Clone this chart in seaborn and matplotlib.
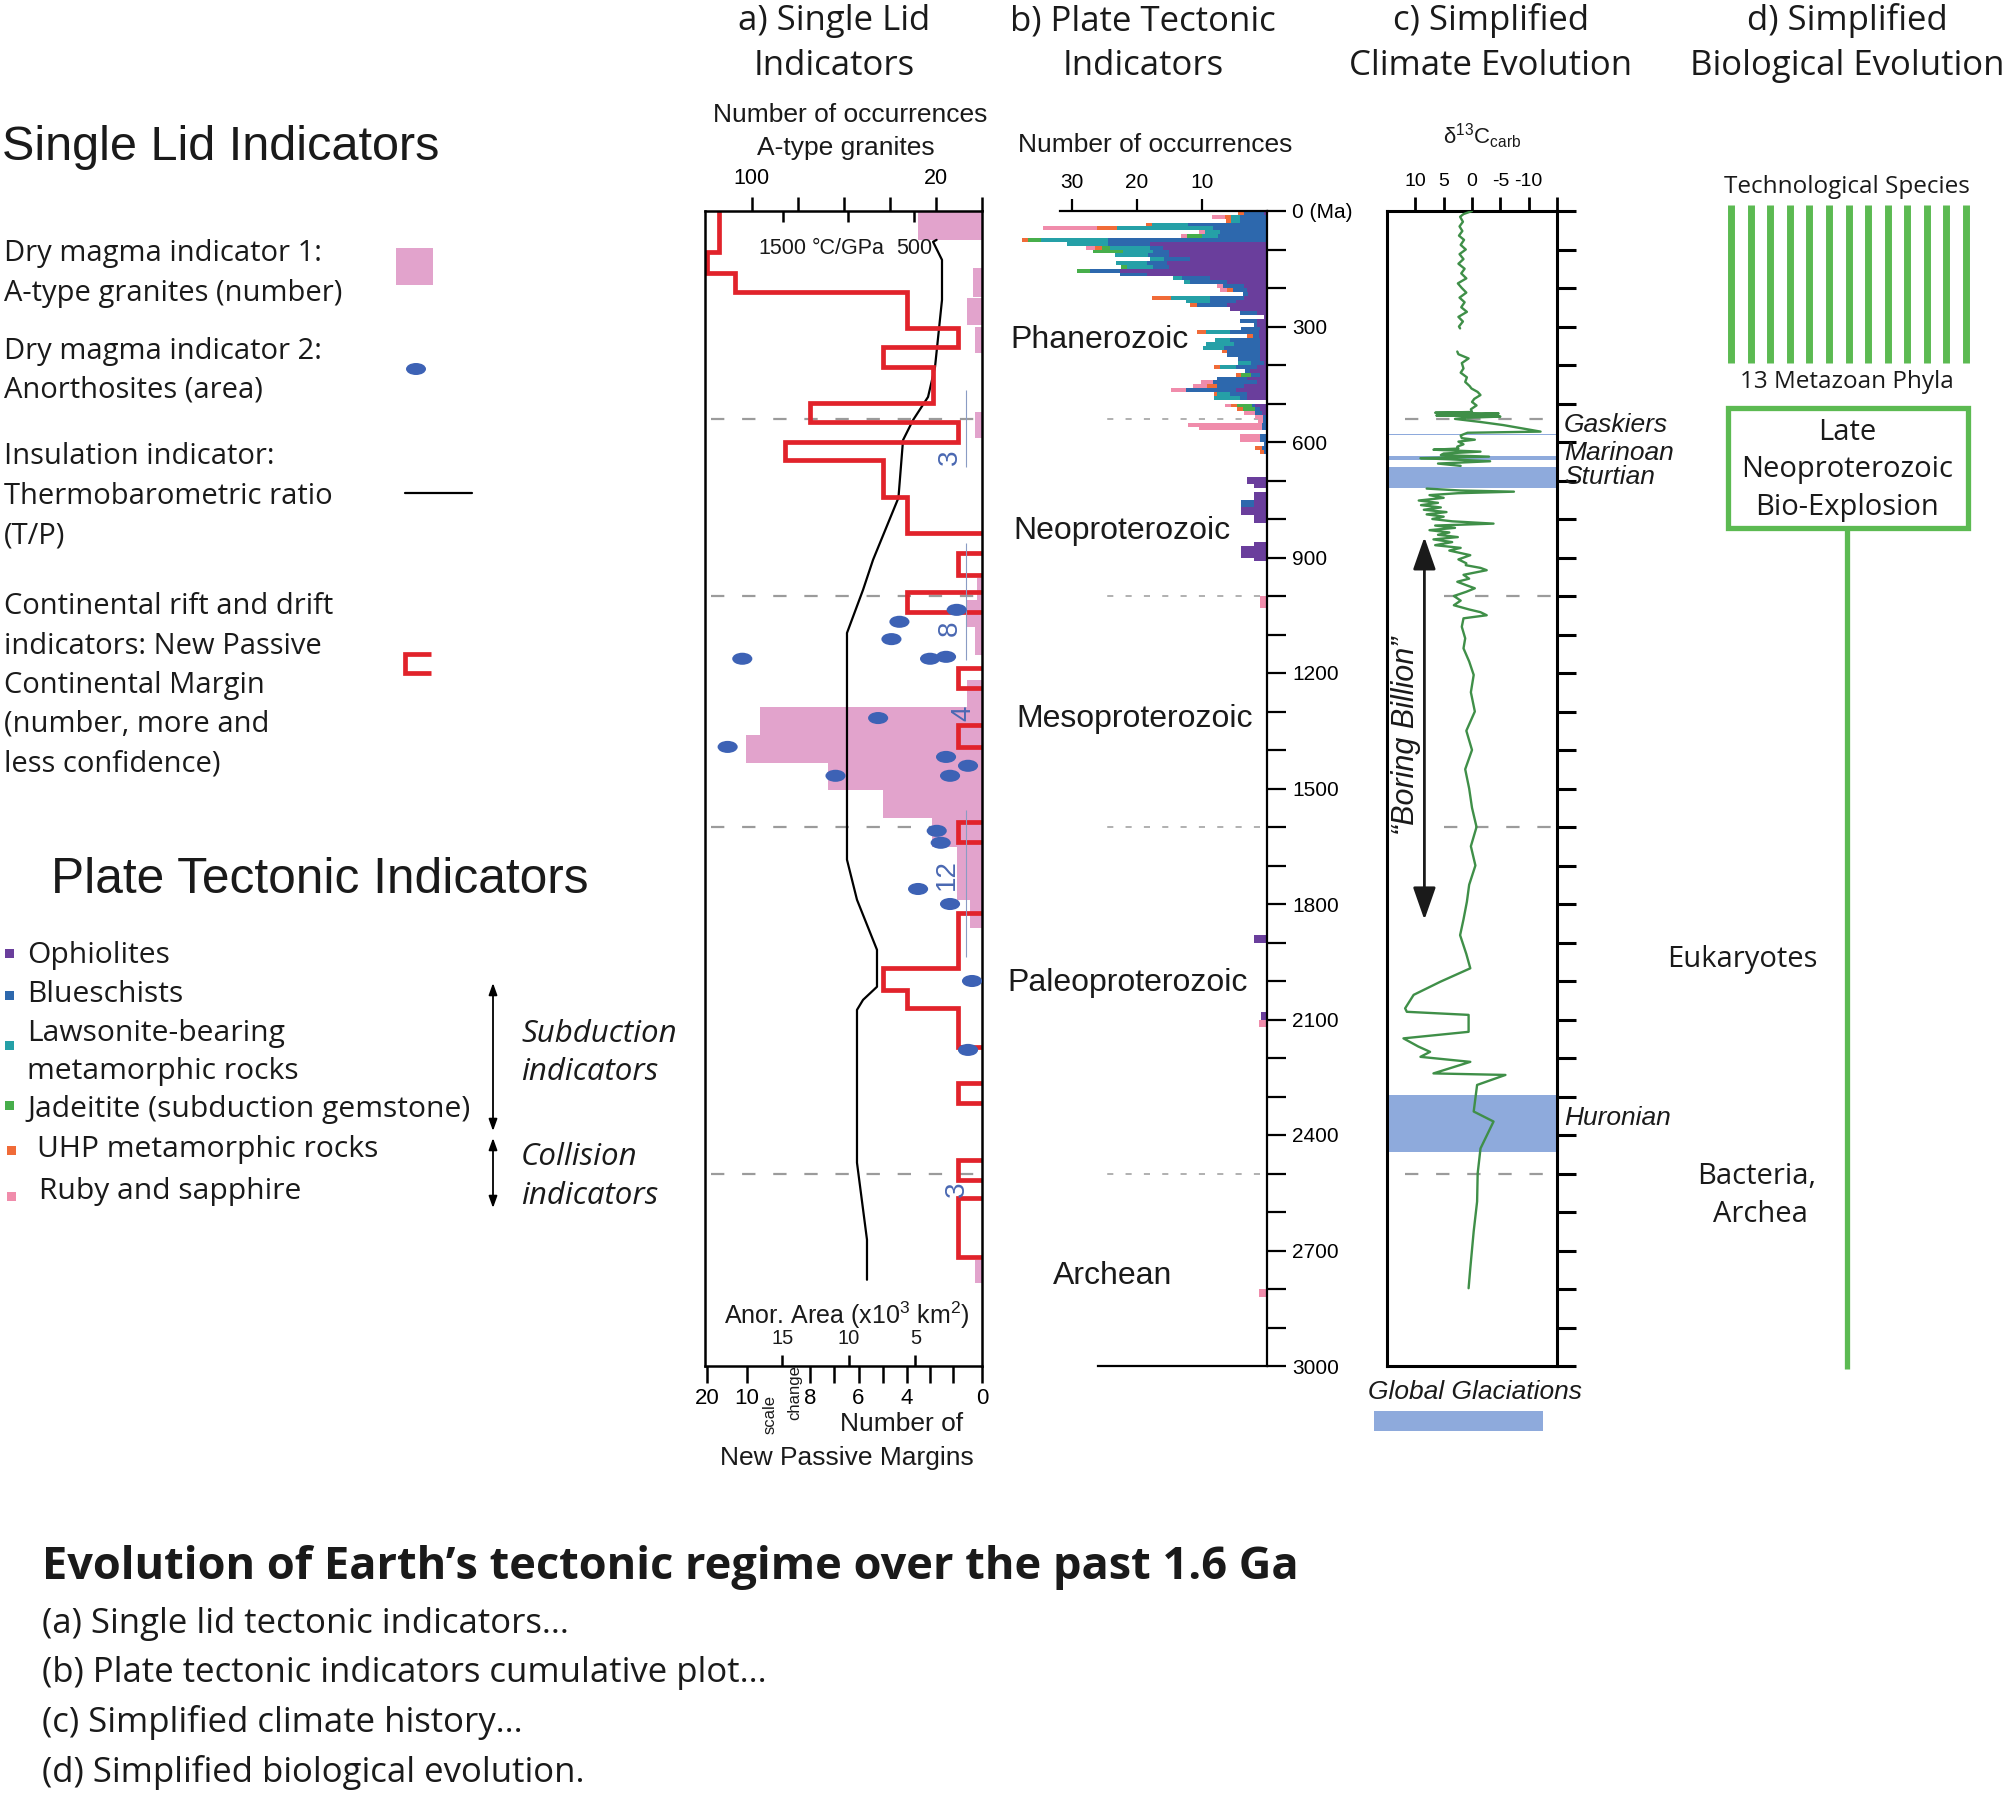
import numpy as np
import pandas as pd
import matplotlib
matplotlib.use("Agg")
import matplotlib.pyplot as plt
import seaborn as sns
from matplotlib.path import Path
from matplotlib.transforms import Affine2D
from matplotlib.patches import Rectangle, Ellipse
from matplotlib.ticker import MultipleLocator, FuncFormatter

# ============================ DATA ============================
era_bounds = [541, 1000, 1600, 2500]
era_names = ["Phanerozoic", "Neoproterozoic", "Mesoproterozoic", "Paleoproterozoic", "Archean"]

# (a) A-type granites: number of occurrences per age bin (Ma)
gran_start = [0, 148, 226, 301, 522, 953, 1010, 1080, 1218, 1288, 1361, 1434, 1504, 1576, 1652, 1789, 2724]
gran_end = [75, 223, 296, 369, 590, 1010, 1080, 1153, 1288, 1361, 1434, 1504, 1576, 1652, 1789, 1862, 2784]
gran_count = [28, 4, 6.5, 3, 3, 2, 7, 3, 6.5, 96.5, 102.6, 67, 43, 21.7, 11, 5, 3]

# (a) Anorthosites: area (x10^3 km^2) vs age
anor_age = [1036, 1067, 1112, 1163, 1163, 1158, 1317, 1392, 1418, 1441, 1467, 1467, 1610, 1641, 1761, 1800, 2000, 2179]
anor_area = [1.9, 6.2, 6.8, 18.0, 3.9, 2.7, 7.8, 19.1, 2.7, 1.05, 2.4, 11.0, 3.4, 3.1, 4.8, 2.4, 0.75, 1.05]
anor_group_label = ["3", "8", "4", "12", "3"]
anor_group_age = [640, 1083, 1304, 1724, 2542]
anor_group_area = [2.4, 2.4, 1.4, 2.6, 1.9]
anor_bar_top = [465, 862, 1556]
anor_bar_bottom = [665, 1166, 1937]

# (a) Thermobarometric ratio T/P (degC/GPa)
tp_age = [75, 80, 127, 231, 405, 483, 543, 595, 745, 906, 984, 1096, 1685, 1789, 1919, 2015, 2049, 2075, 2472, 2672, 2776]
tp_val = [330, 357, 289, 289, 342, 395, 509, 585, 620, 813, 889, 1011, 1011, 935, 783, 783, 889, 935, 935, 859, 859]

# (a) New passive margins (number) per age bin
pm_start = [0, 106, 161, 210, 304, 353, 405, 499, 548, 600, 647, 743, 888, 989, 1187, 1335, 1587,
            1823, 1966, 2023, 2070, 2265, 2465, 2563]
pm_end = [106, 161, 210, 304, 353, 405, 499, 548, 600, 647, 743, 836, 945, 1041, 1239, 1392, 1639,
          1966, 2023, 2070, 2171, 2317, 2517, 2716]
pm_count = [17, 20, 13, 4, 1.3, 5, 2.6, 8, 1.3, 8.8, 5, 4, 1.3, 4, 1.3, 1.3, 1.3,
            1.3, 5, 4, 1.3, 1.3, 1.3, 1.3]

# (b) Plate tectonic indicators, 10 Myr bins (bin start age, Ma)
pt_age = [0, 10, 20, 30, 40, 50, 60, 70, 80, 90,
          100, 110, 120, 130, 140, 150, 160, 170, 180, 190,
          200, 210, 220, 230, 240, 250, 260, 270, 280, 290,
          300, 310, 320, 330, 340, 350, 360, 370, 380, 390,
          400, 410, 420, 430, 440, 450, 460, 470, 480, 500,
          510, 520, 530, 540, 550, 560, 580, 590, 600, 610,
          620, 690, 700, 710, 730, 740, 750, 760, 770, 780,
          790, 800, 860, 870, 880, 890, 900, 1000, 1010, 1020,
          1880, 1890, 2080, 2090, 2100, 2110, 2800, 2810]
pt_ophiolite = [0.5, 0, 0, 0, 0, 0, 0, 0, 18, 16,
                15, 15, 11.8, 15.4, 15, 22.6, 18.5, 8.8, 6.2, 3.6,
                3.1, 2.9, 3.6, 4.7, 6.2, 5.7, 1.6, 0.5, 1.6, 1.5,
                1.0, 1.3, 1.3, 1.1, 1.0, 1.0, 1.0, 1.0, 1.0, 0.5,
                1.6, 2.6, 1.0, 3.1, 1.6, 3.6, 4.7, 3.1, 3.1, 1.8,
                1.1, 0.8, 0, 0, 0, 0, 0, 0, 0, 0,
                0, 3, 3, 2, 2, 2, 2, 2, 4, 4,
                2, 2, 2, 4, 4, 4, 2, 0, 0, 0,
                2, 2, 0.9, 0.9, 0, 0, 0, 0]
pt_blueschist = [3.0, 4.2, 4.2, 12.1, 8.3, 7.2, 7.5, 24.4, 6.4, 2.0,
                 2.5, 3.3, 4.1, 3.1, 2.5, 4.6, 4.1, 4.3, 5.6, 3.1,
                 2.2, 0.8, 5.1, 4.1, 4.6, 0, 2.6, 0, 2.6, 0.5,
                 3.0, 4.4, 0.8, 4.6, 4.0, 5.6, 5.1, 5.1, 3.5, 2.0,
                 3.1, 0.8, 1.5, 4.6, 6.7, 4.1, 7.7, 2.6, 1.0, 0.5,
                 0.8, 1.0, 0.6, 0.6, 0.8, 0.8, 1.1, 1.1, 0.5, 0.8,
                 0.5, 0, 0, 0, 0, 0, 2, 2, 0, 0] + [0] * 18
pt_lawsonite = [0, 1.4, 1.4, 5.6, 14.8, 2.3, 2.5, 10.3, 6.4, 6.2,
                4.6, 5.0, 2.1, 4.7, 4.0, 0, 0, 1.3, 1.0, 0,
                0, 0, 6.1, 3.6, 0, 0, 0, 0, 0, 0,
                0, 3.6, 0, 2.3, 4.4, 3.3, 0, 0, 0, 2.0,
                2.6, 0, 0, 0, 0, 0, 0, 2.0, 4.0, 0] + [0] * 38
pt_jadeitite = [0, 0, 0, 0, 0, 0, 2.3, 2.0, 0, 1.2,
                4.6, 0, 0, 0, 1.0, 2.0, 0, 0, 0, 0,
                0, 0, 0, 0, 0, 0, 0, 0, 0, 0,
                0, 0, 0, 0, 0, 0, 0, 0, 0, 0,
                0, 0, 1.5, 0, 0, 0, 0, 0, 0, 2.3,
                1.8] + [0] * 37
pt_uhp = [0.9, 0.8, 0.7, 0.9, 3.1, 0, 0, 0.9, 0, 1.1,
          0, 0, 0, 0, 0, 0, 0, 0, 0, 0,
          0.9, 0, 2.8, 0, 1.0, 0, 0, 0, 0, 0,
          0, 1.5, 1.0, 0, 0, 0, 0.8, 0, 0, 0,
          0.9, 0, 0.8, 0, 0, 1.5, 0, 0.5, 0, 1.0,
          0.9, 0, 0, 0, 0, 0, 0, 0, 0, 1.0,
          0.5] + [0] * 27
pt_ruby = [0, 2.1, 0, 0, 8.2, 0.9, 0.9, 0, 0, 1.3,
           0, 0, 0, 0, 0, 0, 0, 0, 0, 1.0,
           1.0, 0, 0, 0, 0, 0, 0, 0, 0, 0,
           0, 0, 0, 0, 0, 0, 0, 0, 0, 0,
           0, 0, 0, 0, 1.8, 2.2, 2.4, 0, 0, 0.9,
           0, 1.8, 1.3, 0.8, 11.3, 9.6, 3.1, 3.1, 0, 0,
           0, 0, 0, 0, 0, 0, 0, 0, 0, 0,
           0, 0, 0, 0, 0, 0, 0, 1, 1, 1,
           0, 0, 0, 0, 1.2, 1.2, 1.2, 1.2]
pt_names = ["Ophiolites", "Blueschists", "Lawsonite-bearing metamorphic rocks",
            "Jadeitite (subduction gemstone)", "UHP metamorphic rocks", "Ruby and sapphire"]

# (c) carbonate carbon isotopes; record has gaps at these ages
d13_gaps = [335, 690]
d13_age = [0, 8, 15, 28, 40, 52, 64, 75, 88, 100, 112, 125, 137, 150, 162, 175, 188, 200, 212, 225,
           237, 250, 262, 275, 287, 300, 305,
           365, 372, 383, 395, 409, 420, 432, 444, 455, 461, 470, 478, 488, 496, 505, 515, 522, 524,
           526, 529, 531, 534, 537, 540, 548, 556, 565, 573, 576, 583, 590, 594, 599, 606, 612, 617,
           620, 625, 630, 634, 638, 642, 645, 650, 656, 662,
           721, 726, 729, 733, 738, 745, 752, 758, 764, 770, 776, 782, 788, 794, 800, 806, 812, 817,
           823, 829, 835, 841, 847, 853, 860, 868, 875, 882, 894, 905, 915, 920, 927, 933, 945, 955,
           963, 972, 980, 989, 1000, 1012, 1024, 1035, 1042, 1050, 1058, 1080, 1110, 1136, 1170, 1205,
           1250, 1300, 1350, 1400, 1450, 1500, 1550, 1600, 1650, 1700, 1750, 1794, 1840, 1881, 1930,
           1967, 2002, 2036, 2071, 2080, 2088, 2132, 2149, 2170, 2184, 2197, 2210, 2240, 2244, 2270,
           2339, 2365, 2435, 2500, 2573, 2650, 2746, 2798]
d13_val = [0, 1.5, 2.1, 1.6, 2.2, 1.7, 2.3, 1.4, 2.0, 1.1, 2.2, 1.5, 2.4, 1.3, 1.9, 1.0, 2.5, 1.8, 1.0, 2.2,
           1.3, 1.9, 0.9, 2.4, 1.6, 2.3, 2.1,
           2.6, 2.4, 0.6, 1.8, 1.5, 2.0, 0.9, 1.2, 0.4, 0.1, -1.0, -1.5, -0.4, 0.0, -0.8, 0.2, 0.0, 6.5,
           -4.7, 0.5, 6.3, -5.0, 1.0, 3.0, -1.5, -5.5, -9.0, -12.1, 0.8, 2.0, 1.8, -0.5, 2.4, 1.5, 2.6, 2.4,
           6.8, -1.5, 5.0, 5.5, -3.0, 9.1, 4.0, -3.2, 6.0, 2.0,
           8.0, 2.0, -7.4, 2.5, 7.5, 5.0, 9.4, 6.0, 9.0, 5.5, 8.5, 4.5, 8.0, 5.0, 7.0, 3.5, -3.8, 6.5,
           3.0, 7.5, 4.0, 6.0, 2.5, 6.8, 3.5, 6.5, 2.0, 4.0, 0.3, 2.4, 1.0, 1.1, -1.5, -2.6, 1.5, 0.5,
           2.6, 1.0, -0.5, 1.0, 3.2, 2.0, 3.2, 0.5, -1.5, -2.6, 1.5, 1.8, 1.2, 1.5, 0.5, -0.3,
           0.2, -0.5, 1.0, 0.0, 1.2, 0.5, 0.0, -0.8, 0.2, -0.6, 0.5, 0.9, 1.5, 2.1, 1.0,
           0.3, 5.6, 10.3, 11.8, 11.5, 0.6, 0.6, 12.1, 9.5, 7.4, 9.1, 0.3, 6.8, -5.9, -0.9,
           -0.3, -3.8, -1.5, -1.0, -0.9, -0.3, 0.3, 0.6]

glac_names = ["Gaskiers", "Marinoan", "Sturtian", "Huronian"]
glac_start = [578, 636, 664, 2296]
glac_end = [582, 647, 719, 2443]

# (d) biology
n_phyla = 13
phyla_age_top, phyla_age_bottom = -16, 395
bioexp_top, bioexp_bottom = 512, 823

# ============================ STYLE ============================
sns.set_theme(style="white")
ARIAL = ["Liberation Sans", "DejaVu Sans"]
OPEN = ["Open Sans", "DejaVu Sans"]
plt.rcParams["font.family"] = ARIAL
plt.rcParams["mathtext.fontset"] = "custom"
plt.rcParams["mathtext.rm"] = "Liberation Sans"
plt.rcParams["mathtext.it"] = "Liberation Sans:italic"
TXT = "#1a1a1a"
plt.rcParams["text.color"] = TXT

PINK_G = "#e2a3cc"
RED = "#e1232b"
ANOR = "#3d62b5"
PT_COLORS = ["#6a3e9c", "#2d68ad", "#25a0a7", "#47ae4b", "#f06b38", "#f08cab"]
CURVE = "#3f8f48"
GLAC = "#8eaadc"
BIO = "#5cba52"
DASH = "#9b9b9b"

W, H = 2005, 1804
Y0, Y1 = 211, 1366        # pixel rows of 0 and 3000 Ma
AGE_MAX = 3000

fig = plt.figure(figsize=(W / 100, H / 100), dpi=100)
fig.patch.set_facecolor("white")


def fbox(x0, x1, y0=Y0, y1=Y1):
    return [x0 / W, 1 - y1 / H, (x1 - x0) / W, (y1 - y0) / H]


# overlay (pixel coordinates) for headings, legends and captions
ax_o = fig.add_axes([0, 0, 1, 1])
ax_o.set_xlim(0, W)
ax_o.set_ylim(H, 0)
ax_o.axis("off")


def T(x, y, s, size=21, fam=OPEN, ha="left", va="center", **kw):
    ax_o.text(x, y, s, fontsize=size, family=fam, ha=ha, va=va, color=TXT, **kw)


def clean(ax):
    ax.patch.set_visible(False)
    for sp in ax.spines.values():
        sp.set_visible(False)
    ax.tick_params(axis="y", left=False, right=False, labelleft=False, labelright=False)


# ============================ PANEL A ============================
ax_g = fig.add_axes(fbox(705, 982))
clean(ax_g)
mid = [(s + e) / 2 for s, e in zip(gran_start, gran_end)]
hgt = [e - s for s, e in zip(gran_start, gran_end)]
ax_g.barh(mid, gran_count, height=hgt, left=0, color=PINK_G, linewidth=0, zorder=1)
ax_g.set_xlim(120.4, 0)
for eb in era_bounds:
    ax_g.axhline(eb, xmin=0.02, xmax=0.99, color=DASH, lw=1.6, dashes=(6, 8), zorder=0.5)

# T/P axis
ax_tp = ax_g.twiny()
clean(ax_tp)
ax_tp.set_xlim(2090, -15)
ax_tp.xaxis.set_ticks_position("top")
ax_tp.set_xticks([1500, 1000, 500])
ax_tp.tick_params(axis="x", direction="in", length=8, width=1.8, top=True, bottom=False,
                  labeltop=False, labelbottom=False, colors="black")
for v, s in zip([1500, 1000, 500], ["1500", "°C/GPa", "500"]):
    ax_tp.text(v, 1 - 37 / 1155, s, transform=ax_tp.get_xaxis_transform(), ha="center",
               va="center", fontsize=15.5, color=TXT)
sns.lineplot(x=tp_val, y=tp_age, sort=False, estimator=None, ax=ax_tp, color="black", lw=1.6)

# Passive margin axis (hand-drawn scale with a scale change above 8)
pm_knots_v = np.array([-5, 0, 4, 8, 10, 20, 30])
pm_knots_d = np.array([-94, 0, 75, 172, 235, 275, 315])


def pm_fwd(v):
    return np.interp(v, pm_knots_v, pm_knots_d)


def pm_inv(d):
    return np.interp(d, pm_knots_d, pm_knots_v)


ax_pm = ax_g.twiny()
clean(ax_pm)
ax_pm.set_xscale("function", functions=(pm_fwd, pm_inv))
runs = []
for s, e, v in zip(pm_start, pm_end, pm_count):
    if runs and s == runs[-1][-1][1]:
        runs[-1].append((s, e, v))
    else:
        runs.append([(s, e, v)])
for run in runs:
    xs, ys = [], []
    if run[0][0] > 0:
        xs.append(0)
        ys.append(run[0][0])
    for s, e, v in run:
        xs += [v, v]
        ys += [s, e]
    xs.append(0)
    ys.append(run[-1][1])
    ax_pm.plot(xs, ys, color=RED, lw=3.4, solid_joinstyle="miter", solid_capstyle="butt", zorder=3)
ax_pm.set_xlim(float(pm_inv(277)), 0)
ax_pm.xaxis.set_ticks_position("bottom")
ax_pm.set_xticks([0, 1.55, 2.77, 4, 5, 6, 7, 8, 10, 20])
ax_pm.set_xticklabels(["0", "", "", "4", "", "6", "", "8", "10", "20"])
ax_pm.tick_params(axis="x", direction="out", length=12, width=1.8, pad=4, labelsize=16,
                  bottom=True, top=False, labelbottom=True, labeltop=False, colors="black")

# Anorthosite area axis
ax_ar = ax_g.twiny()
ax_ar.patch.set_visible(False)
ax_ar.tick_params(axis="y", left=False, right=False, labelleft=False, labelright=False)
for sp in ax_ar.spines.values():
    sp.set_linewidth(1.8)
    sp.set_color("black")
ax_ar.set_xlim(20.8, 0)
ell = Path.unit_circle().transformed(Affine2D().scale(1.0, 0.6))
sns.scatterplot(x=anor_area, y=anor_age, ax=ax_ar, marker=ell, s=210, color=ANOR,
                edgecolor="none", linewidth=0, zorder=4)
ax_ar.vlines([1.2] * len(anor_bar_top), anor_bar_top, anor_bar_bottom, color="#8a9cc4", lw=0.8)
for lab, a, x in zip(anor_group_label, anor_group_age, anor_group_area):
    ax_ar.text(x, a, lab, rotation=90, ha="center", va="center", fontsize=20, color="#4a68b2")
ax_ar.xaxis.set_ticks_position("bottom")
ax_ar.set_xticks([15, 10, 5])
ax_ar.tick_params(axis="x", direction="in", length=8, width=1.8, bottom=True, top=False,
                  labelbottom=False, labeltop=False, colors="black")
for v in [15, 10, 5]:
    ax_ar.text(v, (Y1 - 1338) / (Y1 - Y0), str(v), transform=ax_ar.get_xaxis_transform(),
               ha="center", va="center", fontsize=14.5, color=TXT)
ax_ar.set_xlabel("")
ax_ar.set_ylabel("")

# granite count axis on top (set after the twins, which move it to the bottom)
ax_g.xaxis.set_ticks_position("top")
ax_g.set_xticks([100, 80, 60, 40, 20, 0])
ax_g.set_xticklabels(["100", "", "", "", "20", ""])
ax_g.tick_params(axis="x", direction="out", length=10, width=1.8, pad=6, labelsize=15.5,
                 top=True, bottom=False, labeltop=True, labelbottom=False, colors="black")
for a in (ax_g, ax_tp, ax_pm, ax_ar):
    a.set_ylim(AGE_MAX, 0)
    a.set_ylabel("")

# ============================ PANEL B ============================
ax_b = fig.add_axes(fbox(1010, 1267))
ax_b.patch.set_visible(False)
left = np.zeros(len(pt_age))
pt_mid = np.array(pt_age) + 5
for vals, col in zip([pt_ophiolite, pt_blueschist, pt_lawsonite, pt_jadeitite, pt_uhp, pt_ruby],
                     PT_COLORS):
    vals = np.array(vals, dtype=float)
    ax_b.barh(pt_mid, vals, height=10, left=left, color=col, linewidth=0, zorder=2)
    left += vals
ax_b.set_xlim(39.5, 0)
ax_b.set_ylim(AGE_MAX, 0)
ax_b.spines["left"].set_visible(False)
for k in ("top", "right", "bottom"):
    ax_b.spines[k].set_linewidth(1.6)
    ax_b.spines[k].set_color("black")
ax_b.spines["top"].set_bounds(0, 31.8)
ax_b.spines["bottom"].set_bounds(0, 26)
ax_b.xaxis.set_ticks_position("top")
ax_b.set_xticks([30, 20, 10])
ax_b.tick_params(axis="x", direction="out", length=9, width=1.6, pad=5, labelsize=15,
                 top=True, bottom=False, labeltop=True, labelbottom=False, colors="black")
ax_b.yaxis.set_ticks_position("right")
ax_b.yaxis.set_major_locator(MultipleLocator(100))
ax_b.yaxis.set_major_formatter(FuncFormatter(
    lambda v, p: "0 (Ma)" if v == 0 else (f"{int(v)}" if int(v) % 300 == 0 else "")))
ax_b.tick_params(axis="y", direction="out", length=14, width=1.6, pad=4, labelsize=15,
                 right=True, left=False, labelright=True, labelleft=False, colors="black")
ax_b.hlines(era_bounds, 1.1, 26, color=DASH, lw=1.1, linestyles=(0, (4, 8)), zorder=1)
era_lab_age = [335, 831, 1319, 2005, 2766]
era_lab_x = [25.7, 22.3, 20.3, 21.4, 23.7]
for nm, a, x in zip(era_names, era_lab_age, era_lab_x):
    ax_b.text(x, a, nm, ha="center", va="center", fontsize=23, color=TXT)

# ============================ PANEL C ============================
ax_c = fig.add_axes(fbox(1387, 1557))
ax_c.patch.set_visible(False)
for s, e in zip(glac_start, glac_end):
    ax_c.axhspan(s, e, color=GLAC, lw=0, zorder=1)
d13 = pd.DataFrame({"age": d13_age, "d13c": d13_val})
d13["seg"] = np.searchsorted(d13_gaps, d13["age"])
sns.lineplot(data=d13, x="d13c", y="age", units="seg", estimator=None, sort=False, ax=ax_c,
             color=CURVE, lw=1.7, zorder=3)
ax_c.set_xlim(15, -15)
ax_c.set_ylim(AGE_MAX, 0)
ax_c.set_xlabel("")
ax_c.set_ylabel("")
for sp in ax_c.spines.values():
    sp.set_linewidth(2.2)
    sp.set_color("black")
ax_c.xaxis.set_ticks_position("top")
ax_c.set_xticks([10, 5, 0, -5, -10, -15])
ax_c.set_xticklabels(["10", "5", "0", "-5", "-10", ""])
ax_c.tick_params(axis="x", direction="out", length=10, width=2.0, pad=5, labelsize=14,
                 top=True, bottom=False, labeltop=True, labelbottom=False, colors="black")
ax_c.yaxis.set_ticks_position("right")
ax_c.yaxis.set_major_locator(MultipleLocator(100))
ax_c.tick_params(axis="y", direction="out", length=14, width=2.2, right=True, left=False,
                 labelright=False, labelleft=False, colors="black")
dash_start = [11.9, 5.0, 5.0, 11.9]
for eb, x0 in zip(era_bounds, dash_start):
    ax_c.plot([x0, -15], [eb, eb], color=DASH, lw=1.6, dashes=(6, 8), zorder=2)
glac_lab_age = [556, 628, 691, 2355]
for nm, a in zip(glac_names, glac_lab_age):
    ax_c.text(1.04, a, nm, transform=ax_c.get_yaxis_transform(), ha="left", va="center",
              fontsize=19, style="italic", color=TXT)
ax_c.annotate("", xy=(8.4, 847), xytext=(8.4, 1841),
              arrowprops=dict(arrowstyle="<|-|>,head_length=1.0,head_width=0.35",
                              mutation_scale=20, color="#1a1a1a", lw=2, shrinkA=0, shrinkB=0))
ax_c.text(11.7, 1363, "\u201cBoring Billion\u201d", rotation=90, ha="center", va="center",
          fontsize=22, style="italic", color=TXT)

# ============================ PANEL D ============================
ax_d = fig.add_axes(fbox(1650, 2005))
ax_d.axis("off")
ax_d.set_xlim(1650, 2005)
ax_d.set_ylim(AGE_MAX, 0)
xs = np.linspace(1731, 1966, n_phyla)
ax_d.vlines(xs, phyla_age_top, phyla_age_bottom, color=BIO, lw=5, clip_on=False)
ax_d.add_patch(Rectangle((1728, bioexp_top), 240, bioexp_bottom - bioexp_top, fill=False,
                         ec=BIO, lw=3.8, clip_on=False))
ax_d.vlines(1847, bioexp_bottom, AGE_MAX + 8, color=BIO, lw=3.8, clip_on=False)

# ============================ TEXT / LEGENDS ============================
for xc, l1, l2 in [(834, "a) Single Lid", "Indicators"), (1143, "b) Plate Tectonic", "Indicators"),
                   (1491, "c) Simplified", "Climate Evolution"), (1847, "d) Simplified", "Biological Evolution")]:
    T(xc, 21, l1, size=25, ha="center")
    T(xc, 66, l2, size=25, ha="center")

T(850, 115, "Number of occurrences", size=19, fam=ARIAL, ha="center")
T(846, 148, "A-type granites", size=19, fam=ARIAL, ha="center")
T(1155, 145, "Number of occurrences", size=19, fam=ARIAL, ha="center")
T(1482, 136, "\u03b4$^{13}$C$_{\\mathrm{carb}}$", size=16, fam=ARIAL, ha="center")
T(847, 1315, "Anor. Area (x10$^{3}$ km$^{2}$)", size=18, fam=ARIAL, ha="center")
T(902, 1424, "Number of", size=19, fam=ARIAL, ha="center")
T(847, 1458, "New Passive Margins", size=19, fam=ARIAL, ha="center")
T(770, 1414, "scale", size=12, fam=ARIAL, ha="center", rotation=90)
T(795, 1393, "change", size=12, fam=ARIAL, ha="center", rotation=90)

T(2, 147, "Single Lid Indicators", size=35, fam=ARIAL)
for y, s in [(253, "Dry magma indicator 1:"), (293, "A-type granites (number)"),
             (352, "Dry magma indicator 2:"), (390, "Anorthosites (area)"),
             (457, "Insulation indicator:"), (496, "Thermobarometric ratio"), (536, "(T/P)"),
             (607, "Continental rift and drift"), (646, "indicators: New Passive"),
             (686, "Continental Margin"), (724, "(number, more and"), (764, "less confidence)")]:
    T(4, y, s, size=21)
ax_o.add_patch(Rectangle((396, 248), 37, 37, color=PINK_G, lw=0))
ax_o.add_patch(Ellipse((416, 369), 20, 12, color=ANOR, lw=0))
ax_o.plot([405, 472], [493, 493], color="black", lw=1.6)
ax_o.plot([431, 405, 405, 431], [654, 654, 673, 673], color=RED, lw=3.4,
          solid_joinstyle="miter", solid_capstyle="butt")

T(51, 880, "Plate Tectonic Indicators", size=35.7, fam=ARIAL)
leg_rows = [(956, 27, "Ophiolites", 953), (994, 27, "Blueschists", 995),
            (1034, 27, "Lawsonite-bearing", None), (1072, 27, "metamorphic rocks", 1045),
            (1109, 27, "Jadeitite (subduction gemstone)", 1105),
            (1150, 37, "UHP metamorphic rocks", 1150), (1191, 39, "Ruby and sapphire", 1196)]
ci = 0
for y, x, s, sq in leg_rows:
    T(x, y, s, size=21.6)
    if sq is not None:
        sx = 10 if ci < 4 else 12
        ax_o.add_patch(Rectangle((sx - 4.5, sq - 4.5), 9, 9, color=PT_COLORS[ci], lw=0))
        ci += 1
for ya, yb in [(983, 1131), (1138, 1208)]:
    ax_o.annotate("", xy=(493, ya), xytext=(493, yb),
                  arrowprops=dict(arrowstyle="<|-|>,head_length=0.5,head_width=0.18",
                                  mutation_scale=14, color="black", lw=1.3, shrinkA=0, shrinkB=0))
T(521, 1034, "Subduction", size=22.5, style="italic")
T(521, 1072, "indicators", size=22.5, style="italic")
T(521, 1157, "Collision", size=22.5, style="italic")
T(521, 1196, "indicators", size=22.5, style="italic")

T(1475, 1392, "Global Glaciations", size=19, fam=ARIAL, ha="center", style="italic")
ax_o.add_patch(Rectangle((1374, 1411), 169, 20, color=GLAC, lw=0))

T(1847, 187, "Technological Species", size=17.5, ha="center")
T(1847, 382, "13 Metazoan Phyla", size=17.5, ha="center")
T(1847, 432, "Late", size=21, ha="center")
T(1847, 470, "Neoproterozoic", size=21, ha="center")
T(1847, 508, "Bio-Explosion", size=21, ha="center")
T(1742, 960, "Eukaryotes", size=21, ha="center")
T(1757, 1177, "Bacteria,", size=21, ha="center")
T(1760, 1214, "Archea", size=21, ha="center")

T(42, 1567, "Evolution of Earth\u2019s tectonic regime over the past 1.6 Ga", size=32.5, weight="bold")
T(42, 1624, "(a) Single lid tectonic indicators...", size=25)
T(42, 1673, "(b) Plate tectonic indicators cumulative plot...", size=25)
T(42, 1722, "(c) Simplified climate history...", size=25)
T(42, 1772, "(d) Simplified biological evolution.", size=25)

fig.savefig("out.png", dpi=100, facecolor="white")
